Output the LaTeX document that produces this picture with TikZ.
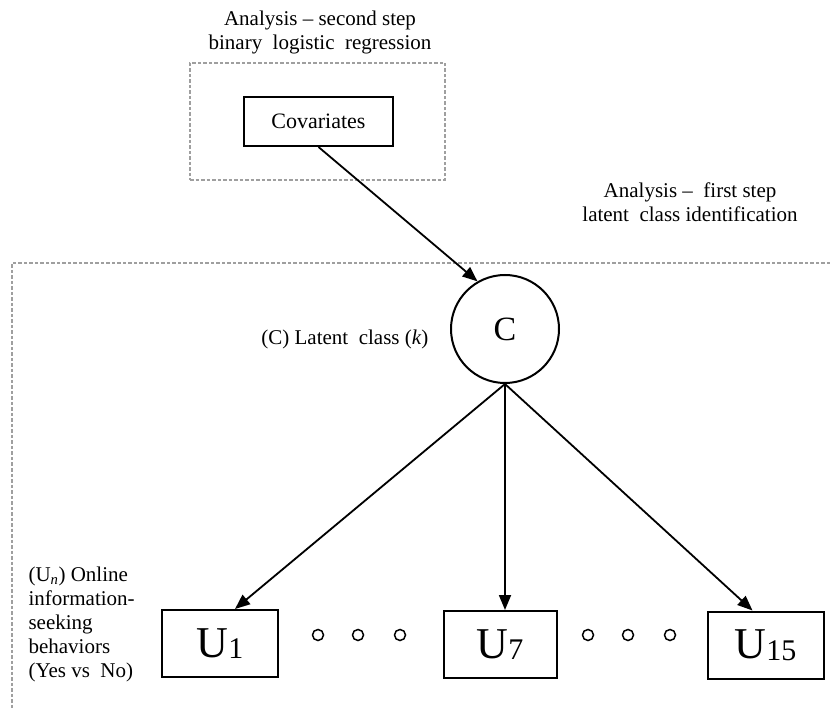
\documentclass[tikz,border=0pt]{standalone}
\usepackage{fontspec}
\setmainfont{Liberation Serif}
\usetikzlibrary{arrows.meta,positioning}

\newcommand{\usub}[1]{\raisebox{-1.5pt}{\fontsize{30}{30}\selectfont #1}}

\begin{document}
\begin{tikzpicture}[x=1pt,y=-1pt,
  box/.style={draw,line width=2pt,inner sep=0pt,font=\fontsize{22}{24}\selectfont},
  ubox/.style={box,minimum width=116pt,minimum height=67pt,font=\fontsize{44}{48}\selectfont},
  frame/.style={draw=gray!75,dash pattern=on 3.5pt off 2pt,line width=1.4pt},
  lbl/.style={font=\fontsize{21}{24}\selectfont,align=center},
  arr/.style={-{Triangle[length=15pt,width=12pt]},line width=1.8pt},
  smalldot/.style={circle,draw,line width=1.5pt,minimum size=11pt,inner sep=0pt}
]
  \useasboundingbox (0,0) rectangle (830,708);

  % Second step: covariates
  \node[frame,minimum width=255pt,minimum height=117pt] (stepTwo) at (317.5,121.5) {};
  \node[box,minimum width=149pt,minimum height=49pt] (cov) at (318.5,121.5) {Covariates};
  \node[lbl] (titleTwo) at (320,32) {Analysis -- second step\\binary\ \ logistic\ \ regression};

  % First step: latent class
  \node[lbl] (titleOne) at (690,202) {Analysis -- \ first step\\latent\ \ class identification};
  \draw[frame] (830,263) -- (12,263) -- (12,708);

  % Latent class
  \node[circle,draw,line width=2pt,minimum size=108pt,inner sep=0pt,font=\fontsize{34}{36}\selectfont] (C) at (505,329) {C};
  \node[lbl,left=18pt of C,yshift=-10pt] (latent) {(C) Latent\ \ class (\textit{k})};

  % Indicators
  \node[ubox] (U1) at (220,643.5) {U\usub{1}};
  \node[ubox,minimum width=113pt] (U7) at (500,644.5) {U\usub{7}};
  \node[ubox] (U15) at (765.5,645) {U\usub{15}};

  \node[smalldot] (d1) at (318,635) {};
  \node[smalldot] (d2) at (358,635) {};
  \node[smalldot] (d3) at (400,635) {};
  \node[smalldot] (d4) at (588,635) {};
  \node[smalldot] (d5) at (628,635) {};
  \node[smalldot] (d6) at (670,635) {};

  \node[lbl,align=left,anchor=north west] (online) at (25,563)
    {(U\textsubscript{\textit{n}}) Online\\information-\\seeking\\behaviors\\(Yes vs\ \ No)};

  % Arrows
  \draw[arr] (cov.south) -- (C.120);
  \draw[arr] (C.south) -- ([xshift=15pt]U1.north);
  \draw[arr] (C.south) -- (C.south |- U7.north);
  \draw[arr] (C.south) -- ([xshift=-13pt]U15.north);
\end{tikzpicture}
\end{document}
